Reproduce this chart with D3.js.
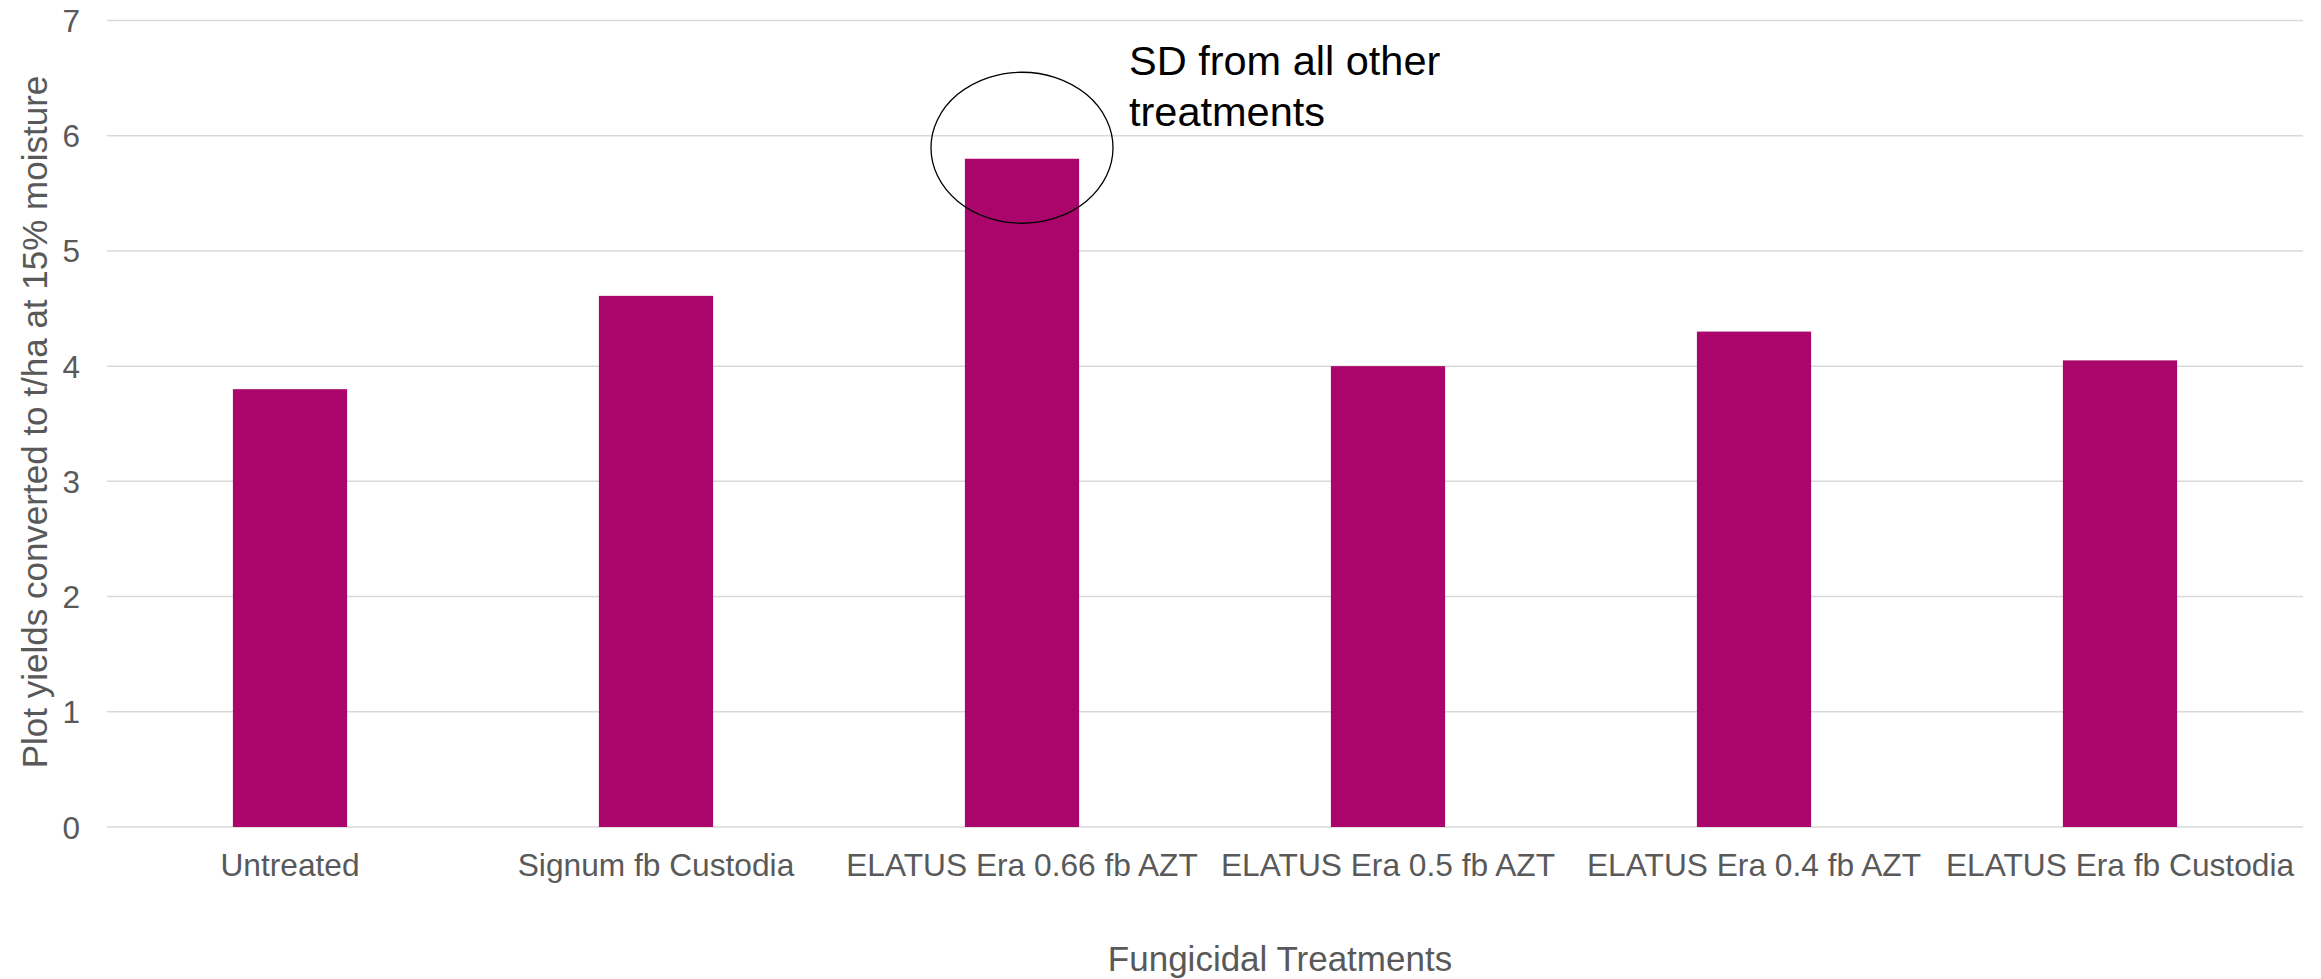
<!DOCTYPE html>
<html>
<head>
<meta charset="utf-8">
<script src="https://cdn.jsdelivr.net/npm/d3@7"></script>
<style>
  html, body { margin: 0; padding: 0; background: #fff; }
  svg { display: block; }
</style>
</head>
<body>
<svg id="chart" width="2321" height="979"></svg>
<script>
const categories = ["Untreated", "Signum fb Custodia", "ELATUS Era 0.66 fb AZT", "ELATUS Era 0.5 fb AZT", "ELATUS Era 0.4 fb AZT", "ELATUS Era fb Custodia"];
const yields = [3.8, 4.61, 5.8, 4.0, 4.3, 4.05];
const yTicks = [0, 1, 2, 3, 4, 5, 6, 7];
const yTitle = "Plot yields converted to t/ha at 15% moisture";
const xTitle = "Fungicidal Treatments";
const annotationLines = ["SD from all other", "treatments"];
const annotatedCategory = "ELATUS Era 0.66 fb AZT";
const annotatedValue = 5.8;

(function () {
const svg = d3.select("#chart");
const plotLeft = 107, plotRight = 2303, plotTop = 20.5, plotBottom = 827;

const x = d3.scaleBand().domain(categories).range([plotLeft, plotRight])
  .paddingInner(0.688).paddingOuter(0.344);
const y = d3.scaleLinear().domain([0, 7]).range([plotBottom, plotTop]);

// gridlines
svg.append("g").selectAll("line").data(yTicks).join("line")
  .attr("x1", plotLeft).attr("x2", plotRight)
  .attr("y1", d => y(d)).attr("y2", d => y(d))
  .attr("stroke", "#d9d9d9").attr("stroke-width", 1.5);

// y axis labels
const yAxis = svg.append("g").attr("transform", `translate(${80},0)`)
  .call(d3.axisLeft(y).tickValues(yTicks).tickSize(0).tickPadding(0).tickFormat(d3.format("d")));
yAxis.select(".domain").remove();
yAxis.selectAll("text")
  .attr("font-family", "Liberation Sans, Arial, sans-serif")
  .attr("font-size", 31.5).attr("fill", "#595959").attr("dy", "0.35em");

// bars
svg.append("g").selectAll("rect").data(yields).join("rect")
  .attr("x", (d, i) => x(categories[i]))
  .attr("width", x.bandwidth())
  .attr("y", d => y(d))
  .attr("height", d => y(0) - y(d))
  .attr("fill", "#a9056a");

// x axis labels
const xAxis = svg.append("g").attr("transform", `translate(0,${plotBottom})`)
  .call(d3.axisBottom(x).tickSize(0).tickPadding(0));
xAxis.select(".domain").remove();
xAxis.selectAll("text")
  .attr("font-family", "Liberation Sans, Arial, sans-serif")
  .attr("font-size", 31.7).attr("fill", "#595959")
  .attr("dy", null).attr("y", 49);

// axis titles
svg.append("text")
  .attr("transform", `translate(46.5,${422}) rotate(-90)`)
  .attr("text-anchor", "middle")
  .attr("font-family", "Liberation Sans, Arial, sans-serif")
  .attr("font-size", 35).attr("fill", "#595959")
  .text(yTitle);

svg.append("text")
  .attr("x", 1280).attr("y", 971)
  .attr("text-anchor", "middle")
  .attr("font-family", "Liberation Sans, Arial, sans-serif")
  .attr("font-size", 35).attr("fill", "#595959")
  .text(xTitle);

// annotation ellipse around the highlighted bar top
const cx = x(annotatedCategory) + x.bandwidth() / 2;
svg.append("ellipse")
  .attr("cx", cx).attr("cy", y(annotatedValue) - 11)
  .attr("rx", 91).attr("ry", 75.5)
  .attr("fill", "none").attr("stroke", "#000").attr("stroke-width", 1.3);

const ann = svg.append("text")
  .attr("font-family", "Liberation Sans, Arial, sans-serif")
  .attr("font-size", 41.5).attr("fill", "#000");
ann.selectAll("tspan").data(annotationLines).join("tspan")
  .attr("x", 1129).attr("y", (d, i) => 75 + i * 51)
  .text(d => d);
})();
</script>
</body>
</html>
